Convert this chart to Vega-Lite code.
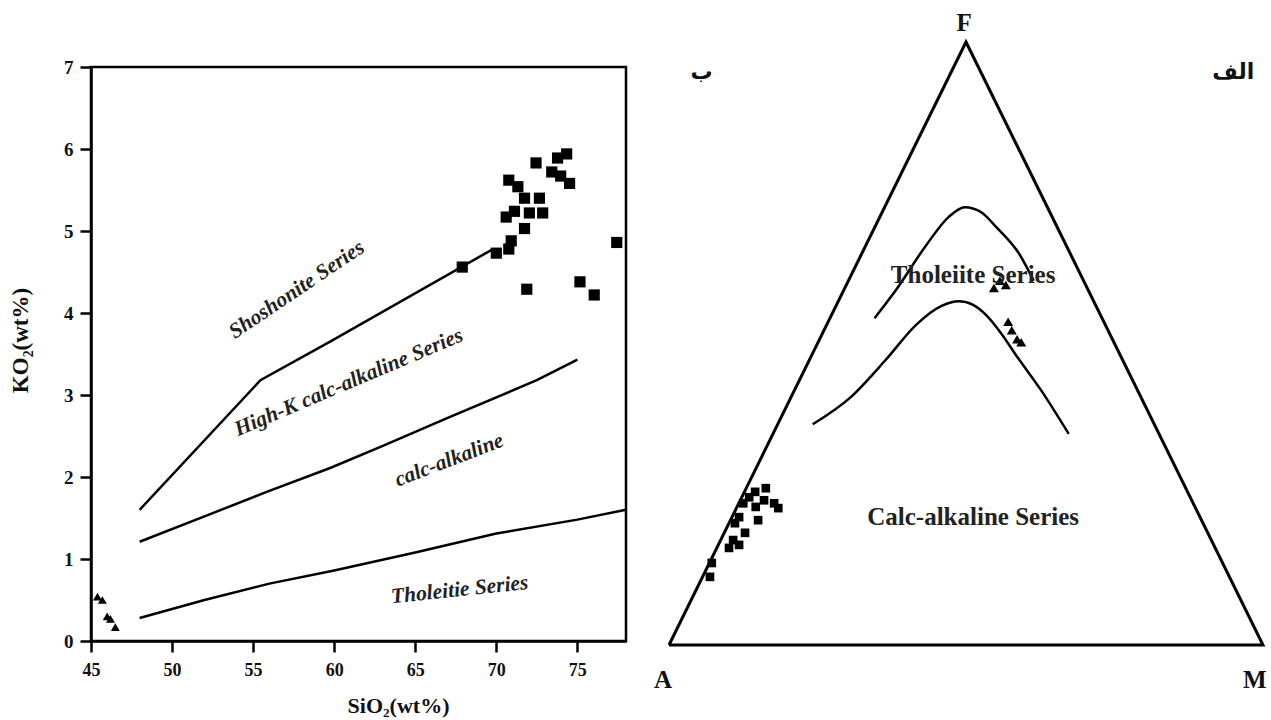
{
  "$schema": "https://vega.github.io/schema/vega-lite/v6.json",
  "background": "white",
  "padding": {"left": 7, "top": 10, "right": 5, "bottom": 5},
  "bounds": "flush",
  "spacing": 43,
  "config": {"font": "Liberation Serif", "view": {"stroke": null}},
  "datasets": {
    "k_lines": [
      {"series": "shoshonite", "SiO2": 48, "K2O": 1.6},
      {"series": "shoshonite", "SiO2": 55.45, "K2O": 3.18},
      {"series": "shoshonite", "SiO2": 59.75, "K2O": 3.65},
      {"series": "shoshonite", "SiO2": 69.8, "K2O": 4.78},
      {"series": "highk", "SiO2": 48, "K2O": 1.21},
      {"series": "highk", "SiO2": 52, "K2O": 1.52},
      {"series": "highk", "SiO2": 56, "K2O": 1.83},
      {"series": "highk", "SiO2": 59.75, "K2O": 2.11},
      {"series": "highk", "SiO2": 63, "K2O": 2.38},
      {"series": "highk", "SiO2": 67, "K2O": 2.72},
      {"series": "highk", "SiO2": 72.5, "K2O": 3.18},
      {"series": "highk", "SiO2": 75, "K2O": 3.43},
      {"series": "calc", "SiO2": 48, "K2O": 0.28},
      {"series": "calc", "SiO2": 52, "K2O": 0.5},
      {"series": "calc", "SiO2": 56, "K2O": 0.7},
      {"series": "calc", "SiO2": 60, "K2O": 0.86},
      {"series": "calc", "SiO2": 65, "K2O": 1.08},
      {"series": "calc", "SiO2": 70, "K2O": 1.31},
      {"series": "calc", "SiO2": 75, "K2O": 1.48},
      {"series": "calc", "SiO2": 78, "K2O": 1.6}
    ],
    "k_squares": [
      {"SiO2": 72.45, "K2O": 5.83},
      {"SiO2": 73.78, "K2O": 5.89},
      {"SiO2": 74.34, "K2O": 5.94},
      {"SiO2": 73.42, "K2O": 5.72},
      {"SiO2": 73.97, "K2O": 5.67},
      {"SiO2": 74.52, "K2O": 5.58},
      {"SiO2": 70.77, "K2O": 5.62},
      {"SiO2": 71.33, "K2O": 5.54},
      {"SiO2": 71.74, "K2O": 5.4},
      {"SiO2": 72.66, "K2O": 5.4},
      {"SiO2": 70.61, "K2O": 5.17},
      {"SiO2": 71.12, "K2O": 5.24},
      {"SiO2": 72.04, "K2O": 5.22},
      {"SiO2": 72.86, "K2O": 5.22},
      {"SiO2": 71.74, "K2O": 5.03},
      {"SiO2": 70.92, "K2O": 4.88},
      {"SiO2": 70.77, "K2O": 4.78},
      {"SiO2": 70.0, "K2O": 4.73},
      {"SiO2": 67.9, "K2O": 4.56},
      {"SiO2": 71.88, "K2O": 4.29},
      {"SiO2": 75.16, "K2O": 4.38},
      {"SiO2": 76.04, "K2O": 4.22},
      {"SiO2": 77.43, "K2O": 4.86}
    ],
    "k_triangles": [
      {"SiO2": 45.4, "K2O": 0.54},
      {"SiO2": 45.7, "K2O": 0.5},
      {"SiO2": 46.0, "K2O": 0.3},
      {"SiO2": 46.2, "K2O": 0.27},
      {"SiO2": 46.5, "K2O": 0.17}
    ],
    "afm_frame": [
      {"i": 1, "x": 0, "y": 0},
      {"i": 2, "x": 50, "y": 100},
      {"i": 3, "x": 100, "y": 0},
      {"i": 4, "x": 0, "y": 0}
    ],
    "afm_curves": [
      {"curve": "upper", "x": 34.6, "y": 54.2},
      {"curve": "upper", "x": 38.3, "y": 59.0},
      {"curve": "upper", "x": 43.3, "y": 66.3},
      {"curve": "upper", "x": 47.1, "y": 71.0},
      {"curve": "upper", "x": 49.8, "y": 72.6},
      {"curve": "upper", "x": 52.5, "y": 71.8},
      {"curve": "upper", "x": 55.1, "y": 69.3},
      {"curve": "upper", "x": 59.0, "y": 64.8},
      {"curve": "upper", "x": 61.4, "y": 60.4},
      {"curve": "lower", "x": 24.2, "y": 36.6},
      {"curve": "lower", "x": 30.6, "y": 41.1},
      {"curve": "lower", "x": 36.5, "y": 47.3},
      {"curve": "lower", "x": 41.6, "y": 53.1},
      {"curve": "lower", "x": 45.8, "y": 56.2},
      {"curve": "lower", "x": 48.8, "y": 57.0},
      {"curve": "lower", "x": 51.2, "y": 56.4},
      {"curve": "lower", "x": 53.4, "y": 54.7},
      {"curve": "lower", "x": 55.9, "y": 51.7},
      {"curve": "lower", "x": 58.4, "y": 48.1},
      {"curve": "lower", "x": 62.6, "y": 42.3},
      {"curve": "lower", "x": 67.3, "y": 35.0}
    ],
    "afm_squares": [
      {"x": 16.3, "y": 26.0},
      {"x": 14.5, "y": 25.4},
      {"x": 13.5, "y": 24.5},
      {"x": 17.7, "y": 23.5},
      {"x": 16.0, "y": 24.0},
      {"x": 14.6, "y": 22.9},
      {"x": 18.4, "y": 22.7},
      {"x": 12.5, "y": 23.5},
      {"x": 15.0, "y": 20.7},
      {"x": 11.8, "y": 21.2},
      {"x": 11.1, "y": 20.2},
      {"x": 12.8, "y": 18.6},
      {"x": 10.8, "y": 17.4},
      {"x": 11.8, "y": 16.6},
      {"x": 10.1, "y": 16.1},
      {"x": 7.2, "y": 13.6},
      {"x": 6.9, "y": 11.3}
    ],
    "afm_triangles": [
      {"x": 54.7, "y": 59.2},
      {"x": 56.7, "y": 59.7},
      {"x": 55.7, "y": 60.4},
      {"x": 57.1, "y": 53.6},
      {"x": 57.7, "y": 52.2},
      {"x": 58.6, "y": 50.7},
      {"x": 59.3, "y": 50.2}
    ],
    "afm_vertices": [
      {"x": 49.7, "y": 103.2, "label": "F"},
      {"x": -1.0, "y": -5.8, "label": "A"},
      {"x": 98.6, "y": -5.8, "label": "M"}
    ],
    "afm_panels": [
      {"x": 5.5, "y": 95.0, "label": "ب"},
      {"x": 95.0, "y": 95.0, "label": "الف"}
    ],
    "afm_regions": [
      {"x": 51.2, "y": 61.4, "label": "Tholeiite Series"},
      {"x": 51.2, "y": 21.2, "label": "Calc-alkaline Series"}
    ]
  },
  "hconcat": [
    {
      "width": 535,
      "height": 574,
      "view": {"stroke": "black", "strokeWidth": 2.5},
      "encoding": {
        "x": {
          "field": "SiO2", "type": "quantitative",
          "scale": {"domain": [45, 78], "nice": false, "zero": false},
          "axis": {
            "values": [45, 50, 55, 60, 65, 70, 75],
            "title": "SiO₂(wt%)",
            "grid": false,
            "domainColor": "black", "domainWidth": 2.5,
            "tickColor": "black", "tickWidth": 2.5, "tickSize": 11,
            "labelFont": "Liberation Serif", "labelFontWeight": "bold", "labelFontSize": 18,
            "labelColor": "#111", "labelPadding": 9, "labelFlush": false, "labelOverlap": false,
            "titleFont": "Liberation Serif", "titleFontWeight": "bold", "titleFontSize": 22,
            "titleColor": "#111", "titleX": 307, "titleY": 64,
            "titleBaseline": "middle", "titleAlign": "center"
          }
        },
        "y": {
          "field": "K2O", "type": "quantitative",
          "scale": {"domain": [0, 7], "nice": false, "zero": false},
          "axis": {
            "values": [0, 1, 2, 3, 4, 5, 6, 7],
            "title": "KO₂(wt%)",
            "grid": false,
            "domainColor": "black", "domainWidth": 2.5,
            "tickColor": "black", "tickWidth": 2.5, "tickSize": 11,
            "labelFont": "Liberation Serif", "labelFontWeight": "bold", "labelFontSize": 19,
            "labelColor": "#111", "labelPadding": 7, "labelFlush": false, "labelOverlap": false,
            "titleFont": "Liberation Serif", "titleFontWeight": "bold", "titleFontSize": 23,
            "titleColor": "#111", "titleX": -71, "titleY": 273,
            "titleBaseline": "middle", "titleAlign": "center", "titleAngle": 270
          }
        }
      },
      "layer": [
        {
          "data": {"name": "k_lines"},
          "mark": {"type": "line", "color": "black", "strokeWidth": 2.5},
          "encoding": {"detail": {"field": "series", "type": "nominal"}}
        },
        {
          "data": {"name": "k_squares"},
          "mark": {"type": "point", "shape": "square", "filled": true, "color": "black", "opacity": 1, "size": 125}
        },
        {
          "data": {"name": "k_triangles"},
          "mark": {"type": "point", "shape": "triangle-up", "filled": true, "color": "black", "opacity": 1, "size": 80}
        },
        {
          "data": {"values": [{"SiO2": 57.7, "K2O": 4.28, "label": "Shoshonite Series"}]},
          "mark": {"type": "text", "angle": -34, "font": "Liberation Serif", "fontStyle": "italic", "fontWeight": "bold", "fontSize": 21.5, "color": "#222"},
          "encoding": {"text": {"field": "label"}}
        },
        {
          "data": {"values": [{"SiO2": 60.9, "K2O": 3.15, "label": "High-K calc-alkaline Series"}]},
          "mark": {"type": "text", "angle": -23, "font": "Liberation Serif", "fontStyle": "italic", "fontWeight": "bold", "fontSize": 21.5, "color": "#222"},
          "encoding": {"text": {"field": "label"}}
        },
        {
          "data": {"values": [{"SiO2": 67.1, "K2O": 2.2, "label": "calc-alkaline"}]},
          "mark": {"type": "text", "angle": -21, "font": "Liberation Serif", "fontStyle": "italic", "fontWeight": "bold", "fontSize": 21.5, "color": "#222"},
          "encoding": {"text": {"field": "label"}}
        },
        {
          "data": {"values": [{"SiO2": 67.74, "K2O": 0.62, "label": "Tholeitie Series"}]},
          "mark": {"type": "text", "angle": -6, "font": "Liberation Serif", "fontStyle": "italic", "fontWeight": "bold", "fontSize": 21.5, "color": "#222"},
          "encoding": {"text": {"field": "label"}}
        }
      ]
    },
    {
      "width": 594,
      "height": 574,
      "view": {"stroke": null},
      "encoding": {
        "x": {"field": "x", "type": "quantitative", "scale": {"domain": [0, 100], "nice": false, "zero": false}, "axis": null},
        "y": {"field": "y", "type": "quantitative", "scale": {"domain": [0.663, 95.85], "nice": false, "zero": false}, "axis": null}
      },
      "layer": [
        {
          "data": {"name": "afm_frame"},
          "mark": {"type": "line", "color": "black", "strokeWidth": 3, "strokeJoin": "miter"},
          "encoding": {"order": {"field": "i", "type": "quantitative"}}
        },
        {
          "data": {"name": "afm_curves"},
          "mark": {"type": "line", "color": "black", "strokeWidth": 2.5, "interpolate": "monotone"},
          "encoding": {"detail": {"field": "curve", "type": "nominal"}}
        },
        {
          "data": {"name": "afm_squares"},
          "mark": {"type": "point", "shape": "square", "filled": true, "color": "black", "opacity": 1, "size": 75}
        },
        {
          "data": {"name": "afm_triangles"},
          "mark": {"type": "point", "shape": "triangle-up", "filled": true, "color": "black", "opacity": 1, "size": 100}
        },
        {
          "data": {"name": "afm_vertices"},
          "mark": {"type": "text", "font": "Liberation Serif", "fontWeight": "bold", "fontSize": 25, "color": "#111"},
          "encoding": {"text": {"field": "label"}}
        },
        {
          "data": {"name": "afm_panels"},
          "mark": {"type": "text", "font": "DejaVu Sans", "fontWeight": "bold", "fontSize": 22, "color": "#111"},
          "encoding": {"text": {"field": "label"}}
        },
        {
          "data": {"name": "afm_regions"},
          "mark": {"type": "text", "font": "Liberation Serif", "fontWeight": "bold", "fontSize": 25, "color": "#222"},
          "encoding": {"text": {"field": "label"}}
        }
      ]
    }
  ]
}
